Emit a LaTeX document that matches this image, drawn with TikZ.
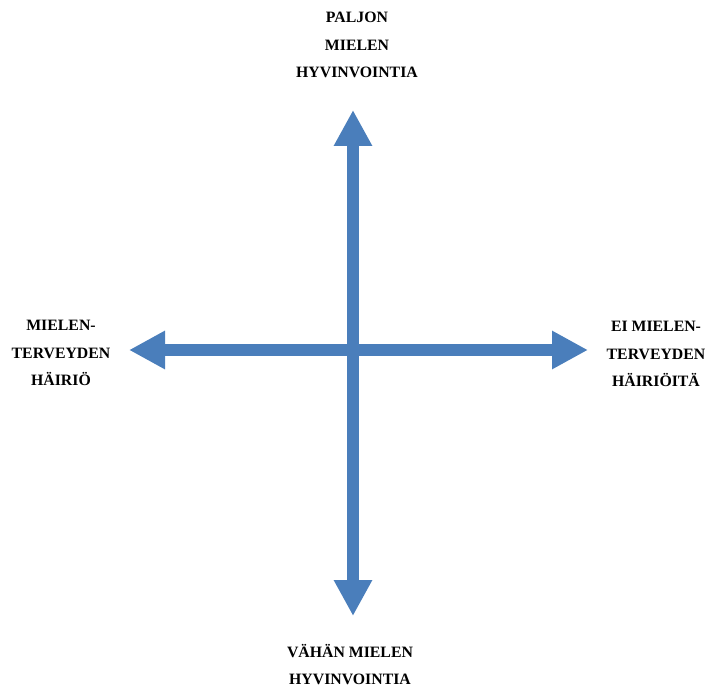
\documentclass[tikz,border=0pt]{standalone}
\usepackage{fontspec}
\setmainfont{Liberation Serif}
\usepackage{xcolor}
\usepackage{tikz}
\usetikzlibrary{arrows.meta, positioning}
\definecolor{axisblue}{RGB}{74,126,187}
\tikzset{
    axis/.style={
        draw=axisblue,
        line width=12pt,
        {Triangle[width=36pt,length=36pt]}-{Triangle[width=36pt,length=36pt]}
    },
    label/.style={
        align=center,
        inner sep=0pt,
        font=\bfseries\fontsize{15.8}{27.5}\selectfont
    }
}
\begin{document}
\begin{tikzpicture}[x=1pt, y=-1pt]

\useasboundingbox (0,0) rectangle (705,687);

% End points of the axes
\coordinate (top) at (353,110);
\coordinate (bottom) at (353,616);
\coordinate (left) at (129,350);
\coordinate (right) at (588,350);

% Axes
\draw[axis] (bottom) -- (top);
\draw[axis] (left) -- (right);

% Labels
\node[label] (wellhigh) at (357,45) {PALJON\\MIELEN\\HYVINVOINTIA};
\node[label] (welllow) at (350,664.5) {VÄHÄN MIELEN\\HYVINVOINTIA};
\node[label] (disorder) at (61,353) {MIELEN-\\TERVEYDEN\\HÄIRIÖ};
\node[label] (nodisorder) at (656,354) {EI MIELEN-\\TERVEYDEN\\HÄIRIÖITÄ};

\end{tikzpicture}
\end{document}
